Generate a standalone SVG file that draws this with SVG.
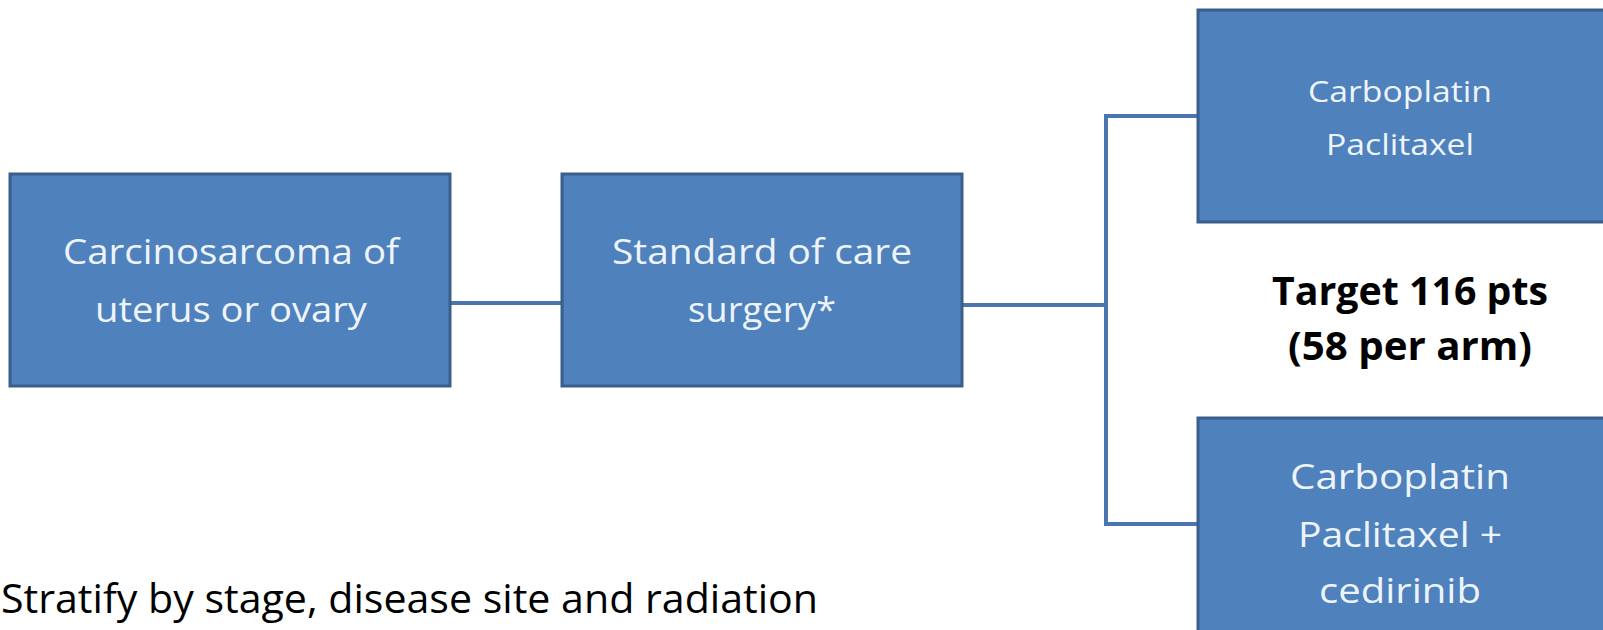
<svg xmlns="http://www.w3.org/2000/svg" width="1603" height="630" viewBox="0 0 1603 630">
  <style>
    .box { fill: #4f81bd; stroke: #3a5f8b; stroke-width: 3; }
    .lbl { font-family: "Open Sans", "Noto Sans", "Liberation Sans", sans-serif; fill: #eef4fb; text-anchor: middle; }
    .conn { fill: none; stroke: #4a76b0; stroke-width: 4; }
    .note { font-family: "Open Sans", "Noto Sans", "Liberation Sans", sans-serif; fill: #000000; }
  </style>
  <rect width="1603" height="630" fill="#ffffff"/>

  <!-- connectors -->
  <g id="connectors">
    <line class="conn" x1="450" y1="303" x2="562" y2="303"/>
    <line class="conn" x1="961" y1="305" x2="1104" y2="305"/>
    <polyline class="conn" points="1198,116 1106,116 1106,524 1198,524"/>
  </g>

  <g id="node-disease">
    <rect class="box" x="10" y="174" width="440" height="212"/>
    <text class="lbl" font-size="34" x="231" y="264" textLength="336" lengthAdjust="spacingAndGlyphs">Carcinosarcoma of</text>
    <text class="lbl" font-size="34" x="231" y="322" textLength="272" lengthAdjust="spacingAndGlyphs">uterus or ovary</text>
  </g>

  <g id="node-surgery">
    <rect class="box" x="562" y="174" width="400" height="212"/>
    <text class="lbl" font-size="34" x="762" y="264" textLength="300" lengthAdjust="spacingAndGlyphs">Standard of care</text>
    <text class="lbl" font-size="34" x="762" y="322" textLength="148" lengthAdjust="spacingAndGlyphs">surgery*</text>
  </g>

  <g id="node-arm-a">
    <rect class="box" x="1198" y="10" width="410" height="212"/>
    <text class="lbl" font-size="30" x="1400" y="102" textLength="184" lengthAdjust="spacingAndGlyphs">Carboplatin</text>
    <text class="lbl" font-size="30" x="1400" y="155" textLength="148" lengthAdjust="spacingAndGlyphs">Paclitaxel</text>
  </g>

  <g id="node-arm-b">
    <rect class="box" x="1198" y="418" width="410" height="220"/>
    <text class="lbl" font-size="35" x="1400" y="489" textLength="220" lengthAdjust="spacingAndGlyphs">Carboplatin</text>
    <text class="lbl" font-size="35" x="1400" y="547" textLength="204" lengthAdjust="spacingAndGlyphs">Paclitaxel +</text>
    <text class="lbl" font-size="35" x="1400" y="603" textLength="162" lengthAdjust="spacingAndGlyphs">cedirinib</text>
  </g>

  <g id="target">
    <text class="note" font-size="40" font-weight="bold" text-anchor="middle" x="1410" y="305" textLength="276" lengthAdjust="spacingAndGlyphs">Target 116 pts</text>
    <text class="note" font-size="40" font-weight="bold" text-anchor="middle" x="1410" y="360" textLength="244" lengthAdjust="spacingAndGlyphs">(58 per arm)</text>
  </g>

  <text class="note" font-size="40" x="1" y="613" textLength="817" lengthAdjust="spacingAndGlyphs">Stratify by stage, disease site and radiation</text>
</svg>
